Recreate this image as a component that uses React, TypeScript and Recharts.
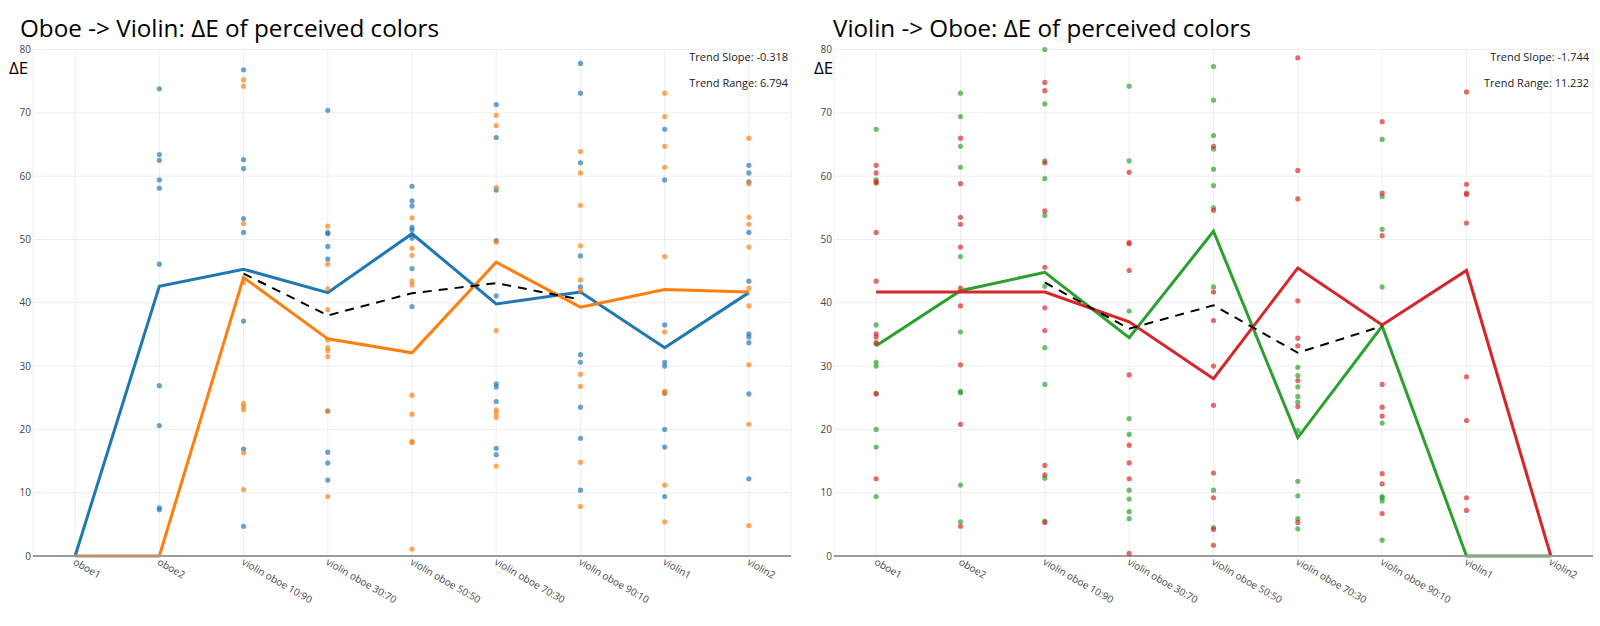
import React from 'react';
import { ComposedChart, Line, Scatter, XAxis, YAxis, CartesianGrid } from 'recharts';

const categories = [
  'oboe1',
  'oboe2',
  'violin oboe 10:90',
  'violin oboe 30:70',
  'violin oboe 50:50',
  'violin oboe 70:30',
  'violin oboe 90:10',
  'violin1',
  'violin2',
];

const yTicks = [0, 10, 20, 30, 40, 50, 60, 70, 80];

// Oboe -> Violin: mean lines and trend
const ovBlueLine = [0, 42.6, 45.3, 41.6, 50.9, 39.8, 41.7, 32.9, 41.6];
const ovOrangeLine = [0, 0, 44.0, 34.3, 32.1, 46.4, 39.3, 42.1, 41.7];
const ovTrend = [null, null, 44.6, 38.0, 41.5, 43.1, 40.5, null, null];

// Oboe -> Violin: individual answers per category
const ovBluePoints = [
  [],
  [73.8, 63.4, 62.5, 59.4, 58.1, 46.1, 26.9, 20.6, 7.6, 7.3],
  [76.8, 62.6, 61.2, 53.3, 51.1, 37.1, 16.9, 4.7],
  [70.4, 51.1, 50.9, 48.9, 46.9, 22.9, 16.4, 14.7, 12.0],
  [58.4, 56.1, 55.3, 51.9, 51.5, 50.7, 50.2, 45.4, 39.4],
  [71.3, 66.1, 57.8, 49.8, 41.1, 27.2, 26.7, 24.4, 17.0, 16.0],
  [77.8, 73.1, 62.1, 47.4, 42.5, 31.8, 30.6, 23.5, 18.6, 10.4],
  [67.4, 59.4, 36.5, 30.6, 30.0, 25.7, 20.0, 17.2, 9.4],
  [61.7, 60.5, 59.1, 51.1, 43.4, 35.1, 34.6, 33.7, 25.6, 12.2],
];
const ovOrangePoints = [
  [],
  [],
  [75.2, 74.2, 52.5, 43.2, 24.1, 23.6, 23.1, 16.3, 10.5],
  [52.1, 46.1, 42.2, 38.9, 34.1, 32.9, 32.4, 31.5, 22.9, 9.4],
  [53.4, 48.6, 47.5, 43.4, 42.8, 25.4, 22.4, 18.1, 17.9, 1.1],
  [69.6, 68.0, 58.2, 49.6, 35.6, 23.1, 22.6, 21.9, 14.2],
  [63.9, 60.5, 55.4, 49.0, 43.6, 41.9, 28.7, 26.8, 14.8, 7.8],
  [73.1, 69.4, 64.7, 61.4, 47.3, 35.4, 26.0, 25.8, 11.2, 5.4],
  [66.0, 58.8, 53.5, 52.4, 48.8, 42.3, 39.5, 30.2, 20.8, 4.8],
];

// Violin -> Oboe: mean lines and trend
const voGreenLine = [33.2, 41.9, 44.8, 34.5, 51.3, 18.7, 36.3, 0, 0];
const voRedLine = [41.7, 41.7, 41.7, 37.0, 28.0, 45.5, 36.5, 45.1, 0];
const voTrend = [null, null, 43.2, 35.9, 39.6, 32.1, 36.3, null, null];

const voGreenPoints = [
  [67.4, 59.4, 36.5, 33.5, 30.6, 30.0, 25.7, 20.0, 17.2, 9.4],
  [73.1, 69.4, 64.7, 61.4, 47.3, 35.4, 26.0, 25.8, 11.2, 5.4],
  [80.0, 71.4, 62.4, 59.6, 53.8, 42.6, 32.9, 27.1, 12.3, 5.5],
  [74.2, 62.4, 38.7, 21.7, 19.2, 10.4, 9.0, 7.0, 5.9],
  [77.3, 72.0, 66.4, 64.3, 61.1, 58.5, 55.0, 42.5, 10.4, 4.5],
  [29.8, 28.5, 26.7, 25.2, 24.3, 19.8, 11.8, 9.5, 5.9, 4.3],
  [65.8, 56.8, 51.6, 42.5, 21.0, 9.4, 9.2, 8.7, 2.5],
  [],
  [],
];
const voRedPoints = [
  [61.7, 60.5, 59.1, 58.9, 51.1, 43.4, 35.1, 34.6, 33.7, 25.6, 12.2],
  [66.0, 58.8, 53.5, 52.4, 48.8, 42.3, 39.5, 30.2, 20.8, 4.7],
  [74.8, 73.5, 62.1, 54.5, 45.6, 39.2, 35.6, 14.3, 12.8, 5.3],
  [60.6, 49.5, 49.3, 45.1, 28.6, 17.5, 14.7, 12.2, 0.4],
  [64.7, 54.6, 41.7, 37.2, 30.0, 23.8, 13.1, 9.2, 4.2, 1.7],
  [78.7, 60.9, 56.4, 40.3, 34.4, 33.2, 27.7, 23.6, 5.3],
  [68.6, 57.3, 50.6, 27.1, 23.5, 22.1, 13.0, 11.4, 6.7],
  [73.3, 58.7, 57.3, 57.1, 52.6, 28.3, 21.4, 9.2, 7.2],
  [],
];

const FONT = "'Open Sans', 'Noto Sans', sans-serif";

function toPoints(cols: number[][]) {
  return cols.flatMap((vals, i) => vals.map((v) => ({ idx: i, v })));
}

function toLineRows(a: number[], b: number[], trend: (number | null)[]) {
  return categories.map((_, i) => ({ idx: i, a: a[i], b: b[i], trend: trend[i] }));
}

const dot = (color: string) => (p: any) =>
  <circle cx={p.cx} cy={p.cy} r={2.6} fill={color} fillOpacity={0.68} />;

function CategoryTick(props: any) {
  const { x, y, payload } = props;
  return (
    <text
      transform={`translate(${x - 2.5},${y + 8}) rotate(30)`}
      fontSize={10}
      fontFamily={FONT}
      fill="#444"
    >
      {categories[payload.value]}
    </text>
  );
}

interface PanelProps {
  rows: any[];
  pointsA: any[];
  pointsB: any[];
  colorA: string;
  colorB: string;
  yAxisWidth: number;
  marginRight: number;
}

function Panel({ rows, pointsA, pointsB, colorA, colorB, yAxisWidth, marginRight }: PanelProps) {
  return (
    <ComposedChart
      width={800}
      height={626}
      data={rows}
      margin={{ top: 49.5, right: marginRight, bottom: 10, left: 0 }}
    >
      <CartesianGrid stroke="#eeeeee" strokeWidth={1} />
      <XAxis
        dataKey="idx"
        type="number"
        domain={[-0.5, 8.5]}
        allowDataOverflow
        ticks={[0, 1, 2, 3, 4, 5, 6, 7, 8]}
        interval={0}
        height={60}
        tickSize={0}
        tickMargin={0}
        tickLine={false}
        axisLine={{ stroke: '#9a9a9a', strokeWidth: 2 }}
        tick={<CategoryTick />}
      />
      <YAxis
        type="number"
        domain={[0, 80]}
        ticks={yTicks}
        width={yAxisWidth}
        tickSize={0}
        tickMargin={2}
        axisLine={false}
        tickLine={false}
        tick={{ fontSize: 10, fill: '#444', fontFamily: FONT }}
      />
      <Scatter data={pointsA} dataKey="v" shape={dot(colorA)} isAnimationActive={false} />
      <Scatter data={pointsB} dataKey="v" shape={dot(colorB)} isAnimationActive={false} />
      <Line dataKey="a" stroke={colorA} strokeWidth={3} dot={false} isAnimationActive={false} />
      <Line dataKey="b" stroke={colorB} strokeWidth={3} dot={false} isAnimationActive={false} />
      <Line
        dataKey="trend"
        stroke="#000"
        strokeWidth={2}
        strokeDasharray="9 7"
        dot={false}
        isAnimationActive={false}
      />
    </ComposedChart>
  );
}

export default function App() {
  return (
    <div style={{ position: 'absolute', left: 0, top: 0, width: 1600, height: 626, background: '#fff' }}>
      <div style={{ position: 'absolute', left: 0, top: 0 }}>
        <Panel
          rows={toLineRows(ovBlueLine, ovOrangeLine, ovTrend)}
          pointsA={toPoints(ovBluePoints)}
          pointsB={toPoints(ovOrangePoints)}
          colorA="#1f77b4"
          colorB="#ff7f0e"
          yAxisWidth={33}
          marginRight={9}
        />
      </div>
      <div style={{ position: 'absolute', left: 800, top: 0 }}>
        <Panel
          rows={toLineRows(voGreenLine, voRedLine, voTrend)}
          pointsA={toPoints(voGreenPoints)}
          pointsB={toPoints(voRedPoints)}
          colorA="#2ca02c"
          colorB="#d62728"
          yAxisWidth={34}
          marginRight={7}
        />
      </div>
      <svg
        width={1600}
        height={626}
        style={{ position: 'absolute', left: 0, top: 0, pointerEvents: 'none' }}
        fontFamily={FONT}
      >
        <text x={20} y={37} fontSize={24} fill="#000" textLength={419} lengthAdjust="spacingAndGlyphs">
          Oboe -&gt; Violin: ΔE of perceived colors
        </text>
        <text x={833} y={37} fontSize={24} fill="#000" textLength={418} lengthAdjust="spacingAndGlyphs">
          Violin -&gt; Oboe: ΔE of perceived colors
        </text>
        <text x={9} y={74} fontSize={17} fill="#000">ΔE</text>
        <text x={814} y={74} fontSize={17} fill="#000">ΔE</text>
        <text x={788} y={61} fontSize={11} fill="#222" textAnchor="end">Trend Slope: -0.318</text>
        <text x={788} y={87} fontSize={11} fill="#222" textAnchor="end">Trend Range: 6.794</text>
        <text x={1589} y={61} fontSize={11} fill="#222" textAnchor="end">Trend Slope: -1.744</text>
        <text x={1589} y={87} fontSize={11} fill="#222" textAnchor="end">Trend Range: 11.232</text>
      </svg>
    </div>
  );
}
